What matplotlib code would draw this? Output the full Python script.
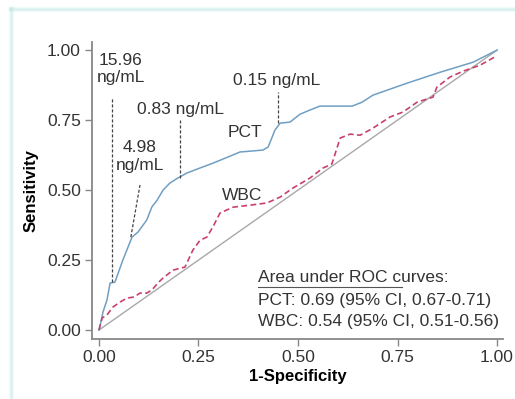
import numpy as np
import matplotlib.pyplot as plt
from matplotlib.lines import Line2D

plt.rcParams['font.family'] = ['Liberation Sans', 'DejaVu Sans']

# ROC curve for PCT (1-specificity, sensitivity)
pct_fpr = [0, 0.005, 0.01, 0.02, 0.028, 0.04, 0.06, 0.083, 0.098, 0.12, 0.133,
           0.146, 0.161, 0.178, 0.198, 0.221, 0.254, 0.286, 0.317, 0.354, 0.412,
           0.425, 0.442, 0.455, 0.48, 0.505, 0.53, 0.555, 0.636, 0.661, 0.688,
           0.774, 0.857, 0.94, 1.0]
pct_tpr = [0, 0.03, 0.064, 0.107, 0.168, 0.171, 0.25, 0.332, 0.35, 0.393, 0.44,
           0.464, 0.5, 0.525, 0.543, 0.561, 0.579, 0.596, 0.614, 0.636, 0.643,
           0.654, 0.714, 0.739, 0.743, 0.771, 0.786, 0.80, 0.80, 0.814, 0.839,
           0.882, 0.921, 0.957, 1.0]

# ROC curve for WBC
wbc_fpr = [0, 0.0025, 0.008, 0.02, 0.035, 0.053, 0.07, 0.088, 0.103, 0.12, 0.133,
           0.148, 0.161, 0.186, 0.216, 0.236, 0.254, 0.271, 0.286, 0.304, 0.337,
           0.379, 0.422, 0.455, 0.487, 0.53, 0.563, 0.585, 0.606, 0.631, 0.656,
           0.688, 0.731, 0.764, 0.799, 0.839, 0.849, 0.882, 0.915, 0.957, 1.0]
wbc_tpr = [0, 0.014, 0.043, 0.054, 0.082, 0.1, 0.114, 0.118, 0.132, 0.132, 0.143,
           0.168, 0.186, 0.214, 0.225, 0.286, 0.321, 0.332, 0.368, 0.418, 0.439,
           0.446, 0.454, 0.475, 0.507, 0.543, 0.579, 0.593, 0.686, 0.70, 0.696,
           0.721, 0.761, 0.779, 0.814, 0.832, 0.868, 0.904, 0.925, 0.946, 0.98]

# cut-off markers: label, line start (x, y), line end (x, y)
cut_labels = ['15.96\nng/mL', '4.98\nng/mL', '0.83 ng/mL', '0.15 ng/mL']
cut_line_x0 = [0.032, 0.080, 0.204, 0.45]
cut_line_y0 = [0.17, 0.332, 0.543, 0.739]
cut_line_x1 = [0.032, 0.103, 0.204, 0.45]
cut_line_y1 = [0.83, 0.518, 0.75, 0.85]
cut_text_x = [0.055, 0.103, 0.204, 0.447]
cut_text_y = [0.932, 0.62, 0.789, 0.893]

ticks = [0, 0.25, 0.5, 0.75, 1.0]
tick_labels = ['0.00', '0.25', '0.50', '0.75', '1.00']

fig = plt.figure(figsize=(5.15, 3.99), dpi=100)
fig.patch.set_facecolor('white')

# soft teal frame on the top and left edges
for i, a in enumerate([0.1, 0.25, 0.4, 0.25, 0.1]):
    fig.add_artist(Line2D([0.018 + i * 0.002, 0.018 + i * 0.002], [0, 0.982],
                          color='#a9dfe0', alpha=a, lw=1, transform=fig.transFigure))
    fig.add_artist(Line2D([0.018, 1], [0.982 - i * 0.0025, 0.982 - i * 0.0025],
                          color='#a9dfe0', alpha=a, lw=1, transform=fig.transFigure))

ax = fig.add_axes([0.1786, 0.1504, 0.7981, 0.7443])
ax.set_xlim(-0.0176, 1.015)
ax.set_ylim(-0.032, 1.029)

ax.plot([0, 1], [0, 1], color='#a8a8a8', lw=1)
ax.plot(pct_fpr, pct_tpr, color='#6f9fc4', lw=1.1)
ax.plot(wbc_fpr, wbc_tpr, color='#c9406d', lw=1.2, dashes=(3.5, 2))

for lab, x0, y0, x1, y1, tx, ty in zip(cut_labels, cut_line_x0, cut_line_y0,
                                       cut_line_x1, cut_line_y1, cut_text_x, cut_text_y):
    ax.plot([x0, x1], [y0, y1], color='#444444', lw=0.9, dashes=(2.5, 1.5))
    ax.text(tx, ty, lab, ha='center', va='center', fontsize=12.5,
            color='#333333', linespacing=1.2)

ax.text(0.367, 0.707, 'PCT', ha='center', va='center', fontsize=12.5, color='#333333')
ax.text(0.36, 0.48, 'WBC', ha='center', va='center', fontsize=12.5, color='#333333')

ax.text(0.40, 0.186, 'Area under ROC curves:', fontsize=12.5, color='#333333',
        va='center', ha='left')
ax.plot([0.40, 0.762], [0.153, 0.153], color='#555555', lw=0.8)
ax.text(0.40, 0.107, 'PCT: 0.69 (95% CI, 0.67-0.71)', fontsize=12.5,
        color='#333333', va='center', ha='left')
ax.text(0.40, 0.032, 'WBC: 0.54 (95% CI, 0.51-0.56)', fontsize=12.5,
        color='#333333', va='center', ha='left')

ax.set_xticks(ticks)
ax.set_xticklabels(tick_labels)
ax.set_yticks(ticks)
ax.set_yticklabels(tick_labels)
ax.tick_params(colors='#888888', labelcolor='#333333', labelsize=12.5,
               length=5, width=1, pad=3)
for side in ['top', 'right']:
    ax.spines[side].set_visible(False)
for side in ['left', 'bottom']:
    ax.spines[side].set_color('#888888')
    ax.spines[side].set_linewidth(1.3)

ax.set_xlabel('1-Specificity', fontsize=12, fontweight='bold', labelpad=3)
ax.set_ylabel('Sensitivity', fontsize=12, fontweight='bold', labelpad=6)

fig.savefig('out.png', dpi=100)
